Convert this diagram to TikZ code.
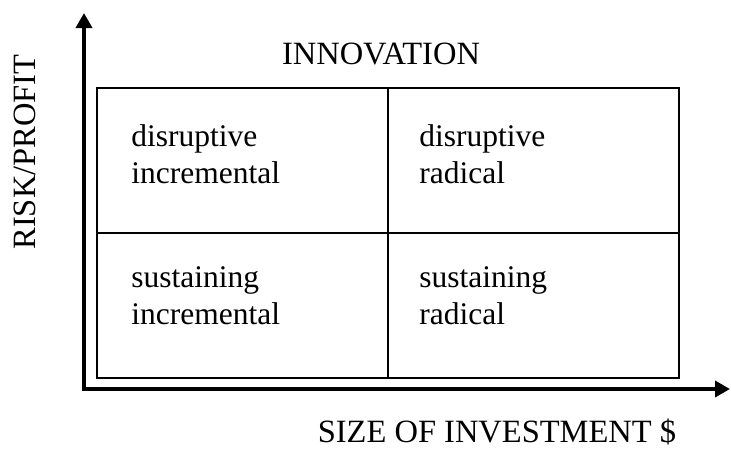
\documentclass[tikz,border=0pt]{standalone}
\usepackage{fontspec}
\setmainfont{Liberation Serif}
\usetikzlibrary{arrows.meta}

\begin{document}
\begin{tikzpicture}
		[x=1pt,y=-1pt,
		cell/.style={draw=black,line width=1.5pt,minimum width=291pt,minimum height=145pt,inner sep=0pt},
		txt/.style={inner sep=0pt,font=\fontsize{31.5}{37.5}\selectfont},
		caps/.style={inner sep=0pt,font=\fontsize{32.5}{39}\selectfont},
		words/.style={txt,align=left,anchor=north west},
		axis/.style={line width=4pt,{Triangle[length=15pt,width=16pt]}-{Triangle[length=15pt,width=16pt]}}]

		\useasboundingbox (0,0) rectangle (731,448);

		\coordinate (o) at (84,389);
		\coordinate (ytip) at (84,13);
		\coordinate (xtip) at (730,389);
		\draw[axis] (ytip) -- (o) -- (xtip);

		\node[cell] (di) at (242.5,160.5) {};
		\node[cell] (dr) at (533.5,160.5) {};
		\node[cell] (si) at (242.5,305.5) {};
		\node[cell] (sr) at (533.5,305.5) {};

		\node[words] (tdi) at ([shift={(35,37)}]di.north west) {disruptive\\incremental};
		\node[words] (tdr) at ([shift={(32,37)}]dr.north west) {disruptive\\radical};
		\node[words] (tsi) at ([shift={(35,34)}]si.north west) {sustaining\\incremental};
		\node[words] (tsr) at ([shift={(32,34)}]sr.north west) {sustaining\\radical};

		\node[caps] (inno) at (381,53.5) {INNOVATION};
		\node[caps,anchor=base] (size) at (497,442) {SIZE OF INVESTMENT \$};
		\node[caps,anchor=base,rotate=90] (risk) at (35,152) {RISK/PROFIT};

	\end{tikzpicture}
\end{document}
